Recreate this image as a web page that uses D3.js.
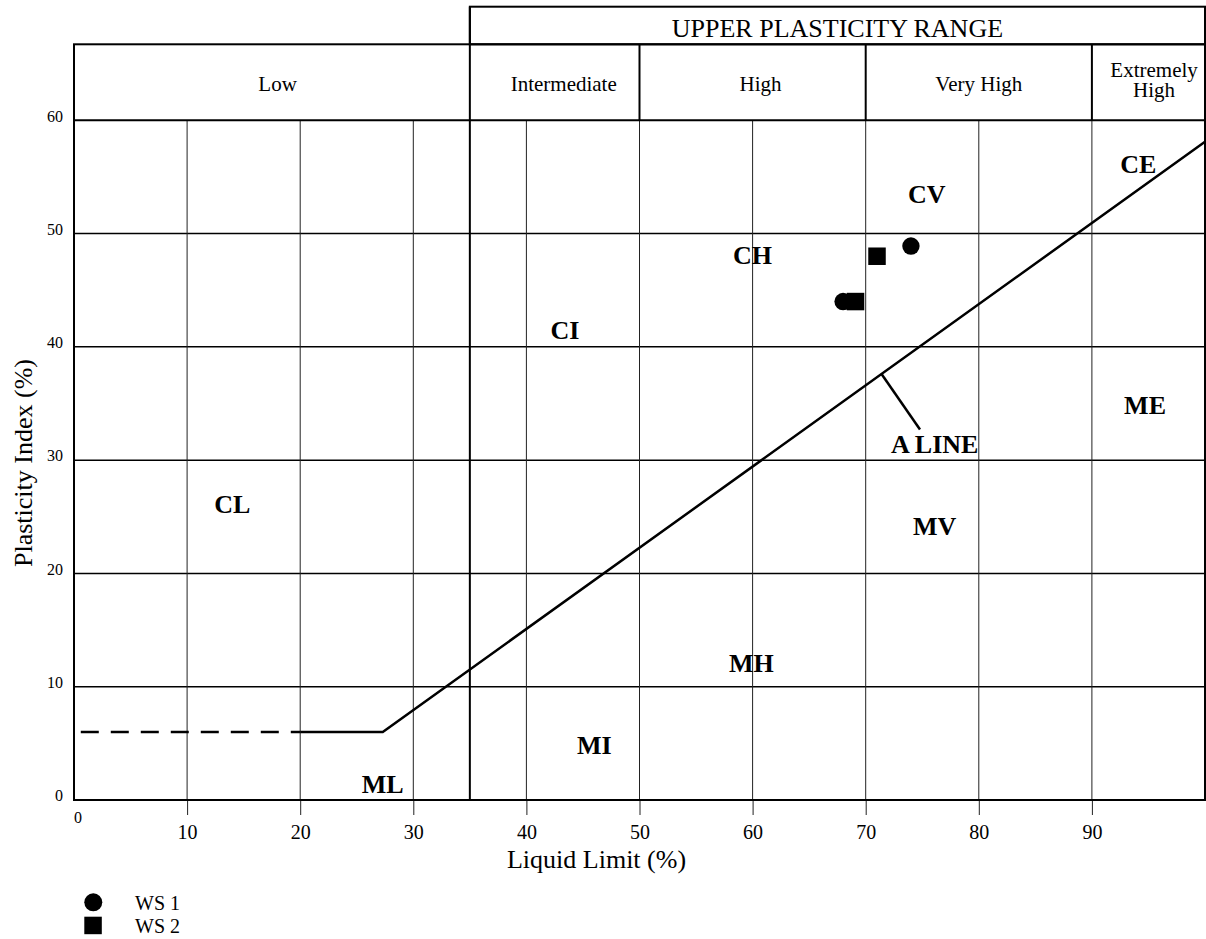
<!DOCTYPE html>
<html>
<head>
<meta charset="utf-8">
<script src="https://cdn.jsdelivr.net/npm/d3@7"></script>
<style>
  body { margin: 0; background: #fff; }
  svg { display: block; font-family: "Liberation Serif", "Times New Roman", serif; }
</style>
</head>
<body>
<svg width="1206" height="939"></svg>
<script>
// ---- data ----
const llTicks = [10, 20, 30, 40, 50, 60, 70, 80, 90];
const piTicks = [0, 10, 20, 30, 40, 50, 60];

// plasticity bands: [label, from LL, to LL, label centre LL]
const bands = [
  ["Low", 0, 35, 18],
  ["Intermediate", 35, 50, 43.3],
  ["High", 50, 70, 60.7],
  ["Very High", 70, 90, 80],
  ["Extremely|High", 90, 100, 95.5]
];
const upperRange = ["UPPER PLASTICITY RANGE", 35, 100];

// A line (LL, PI)
const aLineDashed = [[0.6, 6], [20, 6]];
const aLineSolid = [[20, 6], [27.3, 6], [100, 58.1]];
const aLinePointer = [[71.4, 37.6], [74.8, 32.7]];

// zone labels: [name, LL, PI] (text centre / baseline)
const zones = [
  ["CL", 14, 25.3], ["ML", 27.3, 0.65], ["MI", 46, 4.05], ["MH", 59.9, 11.3],
  ["CI", 43.4, 40.7], ["CH", 60, 47.3], ["CV", 75.4, 52.7], ["CE", 94.1, 55.35],
  ["ME", 94.7, 34.05], ["MV", 76.1, 23.4], ["A LINE", 76.1, 30.6]
];

// samples
const ws1 = [[74, 48.9], [68, 44]];
const ws2 = [[71, 48], [69.1, 44]];

// ---- chart ----
const svg = d3.select("svg");
const x = d3.scaleLinear().domain([0, 100]).range([74, 1205]);
const y = d3.scaleLinear().domain([0, 60]).range([800, 120.3]);
const headerTop = 44.3, upperTop = 6.7;

const grid = svg.append("g");
// horizontal grid
grid.selectAll(".h").data(piTicks.filter(d => d > 0 && d < 60)).enter().append("line")
  .attr("x1", x(0)).attr("x2", x(100))
  .attr("y1", d => y(d)).attr("y2", d => y(d))
  .attr("stroke", "#000").attr("stroke-width", 1.5);

// vertical grid (ticks drawn by axis below)
grid.selectAll(".v").data(llTicks).enter().append("line")
  .attr("x1", d => x(d)).attr("x2", d => x(d))
  .attr("y1", y(0)).attr("y2", y(60))
  .attr("stroke", "#222").attr("stroke-width", 1);

// x axis
const xAxis = svg.append("g")
  .attr("transform", `translate(0,${y(0)})`)
  .call(d3.axisBottom(x).tickValues(llTicks).tickSize(15).tickPadding(10).tickFormat(d3.format("d")));
xAxis.select(".domain").remove();
xAxis.selectAll("line").attr("stroke", "#222");
xAxis.selectAll("text").attr("font-size", 20).attr("font-family", "Liberation Serif").attr("fill", "#000");

svg.append("text").attr("x", x(0)).attr("y", 823)
  .attr("font-size", 16).text("0");

// y axis
const yAxis = svg.append("g")
  .attr("transform", `translate(${x(0)},0)`)
  .call(d3.axisLeft(y).tickValues(piTicks).tickSize(0).tickPadding(11).tickFormat(d3.format("d")));
yAxis.select(".domain").remove();
yAxis.selectAll("text").attr("font-size", 16).attr("dy", "0.05em")
  .attr("font-family", "Liberation Serif").attr("fill", "#000");

// borders
const border = svg.append("g").attr("stroke", "#000").attr("stroke-width", 2).attr("fill", "none");
border.append("rect")
  .attr("x", x(0)).attr("y", headerTop)
  .attr("width", x(100) - x(0)).attr("height", y(0) - headerTop);
border.append("line").attr("x1", x(0)).attr("x2", x(100)).attr("y1", y(60)).attr("y2", y(60));
border.append("rect")
  .attr("x", x(upperRange[1])).attr("y", upperTop)
  .attr("width", x(upperRange[2]) - x(upperRange[1])).attr("height", headerTop - upperTop);
border.append("line").attr("x1", x(35)).attr("x2", x(35)).attr("y1", upperTop).attr("y2", y(0));
border.selectAll(".div").data(bands.slice(2)).enter().append("line")
  .attr("x1", d => x(d[1])).attr("x2", d => x(d[1]))
  .attr("y1", headerTop).attr("y2", y(60));

// header text
svg.append("text")
  .attr("x", x((upperRange[1] + upperRange[2]) / 2)).attr("y", 37.3)
  .attr("text-anchor", "middle").attr("font-size", 26)
  .text(upperRange[0]);

const bandText = svg.selectAll(".band").data(bands).enter().append("text")
  .attr("text-anchor", "middle").attr("font-size", 21)
  .attr("y", d => d[0].includes("|") ? 76.7 : 90.7);
bandText.each(function (d) {
  const lines = d[0].split("|");
  d3.select(this).selectAll("tspan").data(lines).enter().append("tspan")
    .attr("x", x(d[3]))
    .attr("dy", (l, i) => i === 0 ? 0 : 20.5)
    .text(l => l);
});

// A line
const line = d3.line().x(d => x(d[0])).y(d => y(d[1]));
svg.append("path").datum(aLineDashed).attr("d", line)
  .attr("fill", "none").attr("stroke", "#000").attr("stroke-width", 2.5)
  .attr("stroke-dasharray", "18,12");
svg.append("path").datum(aLineSolid).attr("d", line)
  .attr("fill", "none").attr("stroke", "#000").attr("stroke-width", 2.5);
svg.append("path").datum(aLinePointer).attr("d", line)
  .attr("fill", "none").attr("stroke", "#000").attr("stroke-width", 2.5);

// zone labels
svg.selectAll(".zone").data(zones).enter().append("text")
  .attr("x", d => x(d[1])).attr("y", d => y(d[2]))
  .attr("text-anchor", "middle").attr("font-size", 26).attr("font-weight", "bold")
  .text(d => d[0]);

// samples
svg.selectAll(".ws1").data(ws1).enter().append("circle")
  .attr("cx", d => x(d[0])).attr("cy", d => y(d[1])).attr("r", 8.7).attr("fill", "#000");
svg.selectAll(".ws2").data(ws2).enter().append("rect")
  .attr("x", d => x(d[0]) - 8.75).attr("y", d => y(d[1]) - 8.75)
  .attr("width", 17.5).attr("height", 17.5).attr("fill", "#000");

// axis titles
svg.append("text").attr("x", x(46.2)).attr("y", 868)
  .attr("text-anchor", "middle").attr("font-size", 26).text("Liquid Limit (%)");
svg.append("text").attr("transform", "translate(31.5,463) rotate(-90)")
  .attr("text-anchor", "middle").attr("font-size", 26).text("Plasticity Index (%)");

// legend
const legend = svg.append("g");
legend.append("circle").attr("cx", 93.3).attr("cy", 902.3).attr("r", 9).attr("fill", "#000");
legend.append("rect").attr("x", 84.3).attr("y", 916.7).attr("width", 17.5).attr("height", 17.5).attr("fill", "#000");
legend.append("text").attr("x", 135).attr("y", 910).attr("font-size", 20).text("WS 1");
legend.append("text").attr("x", 135).attr("y", 932.7).attr("font-size", 20).text("WS 2");
</script>
</body>
</html>
